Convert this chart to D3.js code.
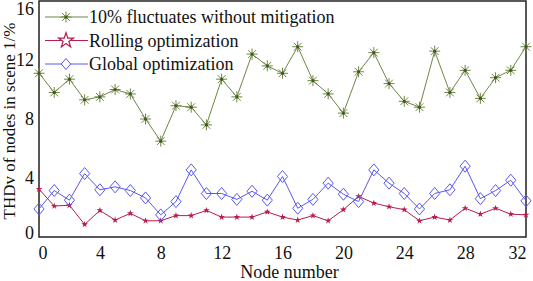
<!DOCTYPE html>
<html>
<head>
<meta charset="utf-8">
<script src="https://cdn.jsdelivr.net/npm/d3@7"></script>
<style>
  body { margin: 0; background: #fff; }
  svg text { font-family: "Liberation Serif", "Times New Roman", serif; fill: #111; }
</style>
</head>
<body>
<div id="chart"></div>
<script>
// node numbers 0..32
const nodes = d3.range(0, 33);

// THDv values
const noMitigation = [11.1, 9.8, 10.7, 9.3, 9.5, 10.0, 9.7, 8.0, 6.5, 8.9,
  8.8, 7.6, 10.7, 9.5, 12.4, 11.6, 11.1, 12.9, 10.6, 9.7,
  8.4, 11.2, 12.5, 10.4, 9.2, 8.8, 12.6, 9.8, 11.3, 9.4,
  10.8, 11.3, 12.9];
const rolling = [3.25, 2.1, 2.15, 0.85, 1.8, 1.15, 1.6, 1.1, 1.1, 1.45,
  1.45, 1.8, 1.35, 1.35, 1.35, 1.7, 1.35, 1.15, 1.45, 1.1,
  1.85, 2.75, 2.3, 2.05, 1.85, 1.1, 1.35, 1.15, 1.95, 1.55,
  1.95, 1.55, 1.5];
const globalOpt = [1.9, 3.15, 2.5, 4.3, 3.2, 3.4, 3.15, 2.65, 1.5, 2.4,
  4.55, 2.95, 2.95, 2.55, 3.1, 2.5, 4.1, 1.95, 2.55, 3.65,
  2.9, 2.4, 4.55, 3.65, 2.95, 1.9, 2.95, 3.2, 4.8, 2.6,
  3.15, 3.85, 2.45];

const seriesNames = ["10% fluctuates without mitigation", "Rolling optimization", "Global optimization"];
const seriesColors = ["#6f8645", "#b81c4c", "#5858f2"];
const xTicks = [0, 4, 8, 12, 16, 20, 24, 28, 32];
const yTicks = [0, 4, 8, 12, 16];

const W = 533, H = 281;
const margin = { top: 1, right: 7, bottom: 44, left: 39 };
const width = W - margin.left - margin.right,
  height = H - margin.top - margin.bottom;
const FONT = "Liberation Serif";

const svg = d3.select("#chart")
  .append("svg")
  .attr("width", W)
  .attr("height", H)
  .append("g")
  .attr("transform", `translate(${margin.left},${margin.top})`);

const x = d3.scaleLinear().domain([0, 32]).range([0, width]);
const y = d3.scaleLinear().domain([0, 16]).range([height, 0]);

// axes (labels only, no tick marks)
const xAxis = svg.append("g")
  .attr("transform", `translate(0,${height})`)
  .attr("font-family", FONT)
  .call(d3.axisBottom(x).tickValues(xTicks).tickSize(0).tickPadding(9));
xAxis.select(".domain").remove();
xAxis.selectAll("text").attr("font-size", 18).attr("fill", "#111")
  .attr("text-anchor", d => d === 0 ? "start" : d === 32 ? "end" : "middle")
  .attr("dx", d => d === 0 ? -1 : 0);

const yAxis = svg.append("g")
  .attr("font-family", FONT)
  .call(d3.axisLeft(y).tickValues(yTicks).tickSize(0).tickPadding(5));
yAxis.select(".domain").remove();
yAxis.selectAll("text").attr("font-size", 18).attr("fill", "#111")
  .attr("y", d => d === 16 ? 8 : d === 0 ? -4 : 0);

// frame
svg.append("rect")
  .attr("x", 0).attr("y", 0)
  .attr("width", width).attr("height", height)
  .attr("fill", "none")
  .attr("stroke", "#222")
  .attr("stroke-width", 1.5);

// axis titles
svg.append("text")
  .attr("x", width / 2 + 7)
  .attr("y", height + 41)
  .attr("text-anchor", "middle")
  .attr("font-size", 18)
  .text("Node number");

svg.append("text")
  .attr("transform", `translate(${-24},${height / 2 + 2}) rotate(-90)`)
  .attr("text-anchor", "middle")
  .attr("font-size", 17)
  .text("THDv of nodes in scene 1/%");

// marker drawers
function asterisk(g, r, color) {
  [0, 45, 90, 135].forEach(a => {
    const rad = a * Math.PI / 180;
    g.append("line")
      .attr("x1", -r * Math.cos(rad)).attr("y1", -r * Math.sin(rad))
      .attr("x2", r * Math.cos(rad)).attr("y2", r * Math.sin(rad))
      .attr("stroke", color).attr("stroke-width", 1);
  });
  g.append("circle").attr("r", 1.6).attr("fill", "#3d5a1e");
}

const starSym = d3.symbol().type(d3.symbolStar);
const diamondPath = r => `M0,${-r}L${r * 0.85},0L0,${r}L${-r * 0.85},0Z`;

const line = d3.line().x((d, i) => x(nodes[i])).y(d => y(d));

const allSeries = [noMitigation, rolling, globalOpt];

allSeries.forEach((vals, k) => {
  svg.append("path")
    .datum(vals)
    .attr("d", line)
    .attr("fill", "none")
    .attr("stroke", seriesColors[k])
    .attr("stroke-width", 1);
});

// green asterisks
svg.append("g").selectAll("g")
  .data(noMitigation)
  .join("g")
  .attr("transform", (d, i) => `translate(${x(nodes[i])},${y(d)})`)
  .each(function () { asterisk(d3.select(this), 5.5, seriesColors[0]); });

// red small stars
svg.append("g").selectAll("path")
  .data(rolling)
  .join("path")
  .attr("transform", (d, i) => `translate(${x(nodes[i])},${y(d)})`)
  .attr("d", starSym.size(14)())
  .attr("fill", seriesColors[1]);

// blue diamonds
svg.append("g").selectAll("path")
  .data(globalOpt)
  .join("path")
  .attr("transform", (d, i) => `translate(${x(nodes[i])},${y(d)})`)
  .attr("d", diamondPath(6))
  .attr("fill", "none")
  .attr("stroke", seriesColors[2])
  .attr("stroke-width", 1);

// legend
const legend = svg.append("g").attr("transform", "translate(6,16)");
seriesNames.forEach((name, k) => {
  const row = legend.append("g").attr("transform", `translate(0,${k * 23.5})`);
  row.append("line")
    .attr("x1", 0).attr("x2", 43)
    .attr("y1", 0).attr("y2", 0)
    .attr("stroke", seriesColors[k]).attr("stroke-width", 1);
  const m = row.append("g").attr("transform", "translate(21,0)");
  if (k === 0) asterisk(m, 5.5, seriesColors[0]);
  if (k === 1) m.append("path").attr("d", starSym.size(70)()).attr("fill", "#fff")
    .attr("stroke", seriesColors[1]).attr("stroke-width", 1.2);
  if (k === 2) m.append("path").attr("d", diamondPath(5.5)).attr("fill", "#fff")
    .attr("stroke", seriesColors[2]).attr("stroke-width", 1);
  row.append("text")
    .attr("x", 44).attr("y", 6)
    .attr("font-size", 18)
    .text(name);
});
</script>
</body>
</html>
